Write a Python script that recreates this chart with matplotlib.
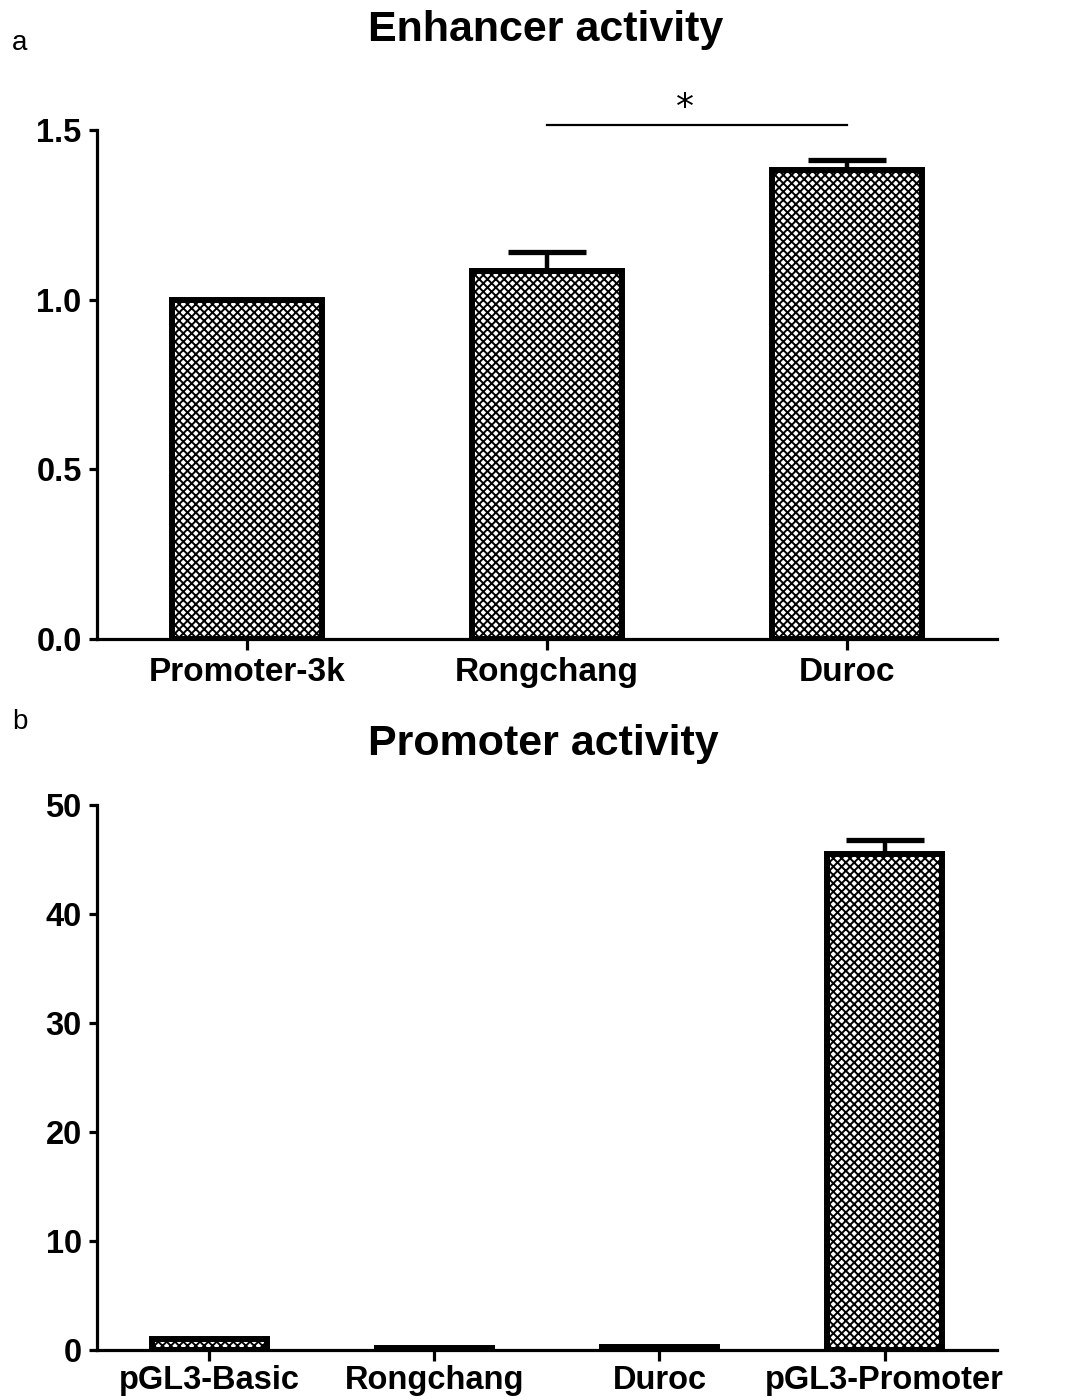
import numpy as np
import matplotlib
matplotlib.use('Agg')
import matplotlib.pyplot as plt

# enhancer assay (fold over Promoter-3k)
enh_labels = ['Promoter-3k', 'Rongchang', 'Duroc']
enh_mean = [1.0, 1.085, 1.382]
enh_err = [0.0, 0.057, 0.03]

# promoter assay (fold over pGL3-Basic)
pro_labels = ['pGL3-Basic', 'Rongchang', 'Duroc', 'pGL3-Promoter']
pro_mean = [1.0, 0.2, 0.25, 45.5]
pro_err = [0.0, 0.0, 0.0, 1.3]

plt.rcParams['font.family'] = ['Liberation Sans', 'DejaVu Sans']
plt.rcParams['hatch.linewidth'] = 1.4
plt.rcParams['hatch.color'] = 'black'

fig = plt.figure(figsize=(10.81, 14.0), dpi=100)
ax1 = fig.add_axes([0.0897, 0.5436, 0.8326, 0.3635])
ax2 = fig.add_axes([0.0897, 0.0357, 0.8326, 0.3893])


def style_axis(ax, xlabels, lab_size, lab_pad):
    for s in ['top', 'right']:
        ax.spines[s].set_visible(False)
    for s in ['left', 'bottom']:
        ax.spines[s].set_linewidth(2.3)
    ax.tick_params(axis='y', length=6, width=2.3, labelsize=23.5, pad=5)
    ax.tick_params(axis='x', length=8, width=2.3, labelsize=lab_size,
                   pad=lab_pad)
    ax.set_xticks(np.arange(len(xlabels)))
    ax.set_xticklabels(xlabels, fontweight='bold')
    for t in ax.get_yticklabels():
        t.set_fontweight('bold')


def draw_bars(ax, means, errs, width):
    x = np.arange(len(means))
    ax.errorbar(x, means, yerr=[np.zeros(len(errs)), errs], fmt='none',
                ecolor='black', elinewidth=3.2, capsize=28, capthick=3.8,
                zorder=2)
    ax.bar(x, means, width=width, color='white', edgecolor='black',
           linewidth=4.3, hatch='xxxx', zorder=3)


# a: enhancer activity
draw_bars(ax1, enh_mean, enh_err, 0.5)
ax1.set_xlim(-0.5, 2.5)
ax1.set_ylim(0, 1.5)
ax1.set_yticks([0.0, 0.5, 1.0, 1.5])
ax1.set_yticklabels(['0.0', '0.5', '1.0', '1.5'])
style_axis(ax1, enh_labels, 24, 5)
ax1.plot([1, 2], [1.515, 1.515], color='black', lw=1.6, clip_on=False)
ax1.text(1.46, 1.565, '*', ha='center', va='center', fontsize=26,
         family='DejaVu Sans')

# b: promoter activity
draw_bars(ax2, pro_mean, pro_err, 0.51)
ax2.set_xlim(-0.5, 3.5)
ax2.set_ylim(0, 50)
ax2.set_yticks([0, 10, 20, 30, 40, 50])
style_axis(ax2, pro_labels, 23.5, 3)

fig.text(0.505, 0.9785, 'Enhancer activity', fontsize=31, fontweight='bold',
         ha='center', va='center')
fig.text(0.503, 0.4685, 'Promoter activity', fontsize=31, fontweight='bold',
         ha='center', va='center')
fig.text(0.011, 0.969, 'a', fontsize=20, va='center')
fig.text(0.011, 0.484, 'b', fontsize=20, va='center')

fig.savefig('out.png', dpi=100, facecolor='white')
